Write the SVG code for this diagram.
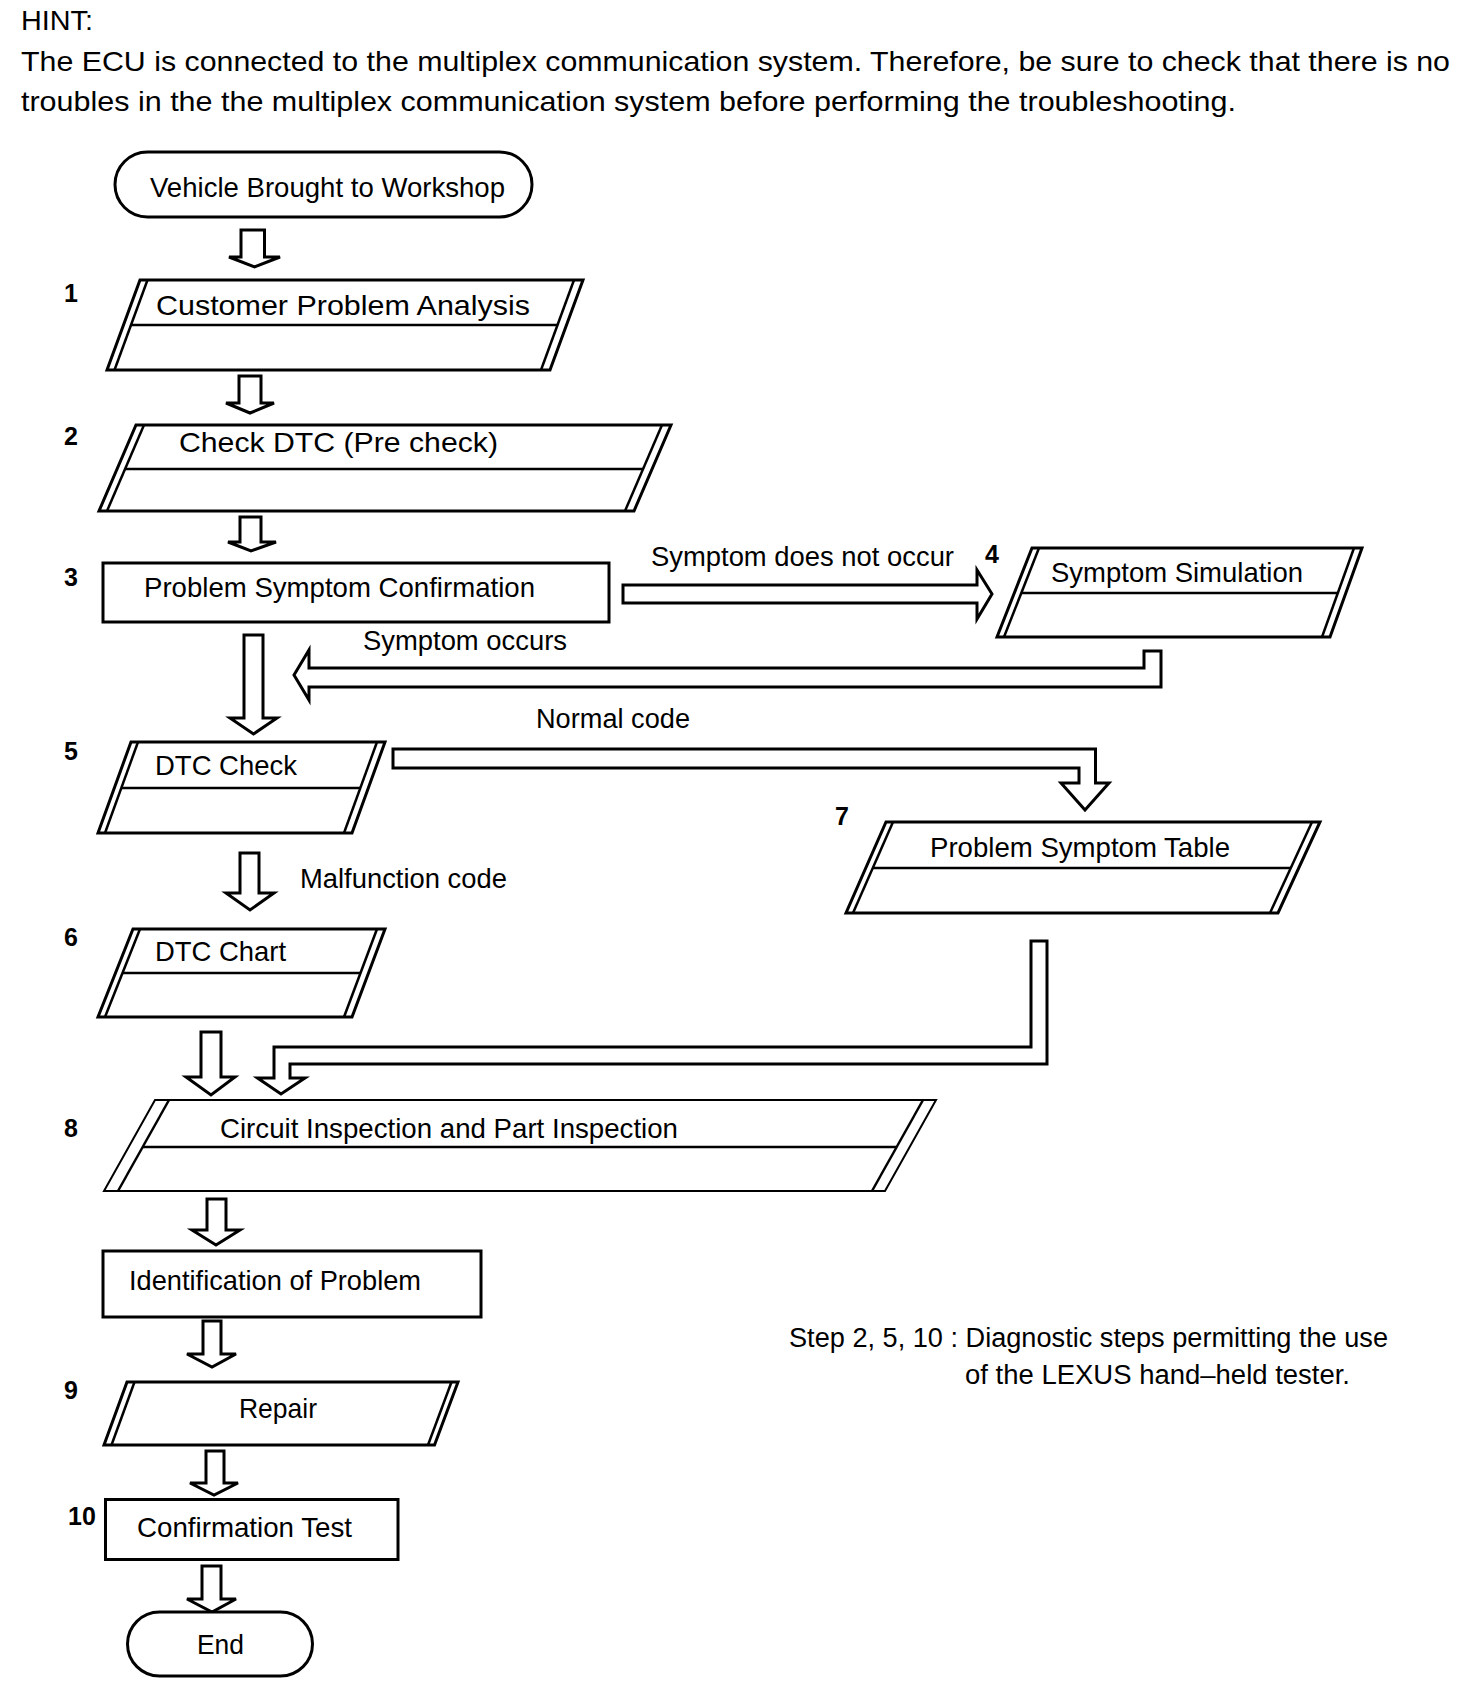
<svg xmlns="http://www.w3.org/2000/svg" width="1472" height="1690" viewBox="0 0 1472 1690">
<style>
text{font-family:"Liberation Sans",Arial,Helvetica,sans-serif;fill:#000}
.t{font-size:28px}
.c{font-size:27px}
.h{font-size:28px}
.n{font-size:25px;font-weight:bold}
.box{fill:#fff;stroke:#000;stroke-width:3;stroke-linejoin:miter}
.in{stroke:#000;stroke-width:2.5;fill:none}
.thin{fill:#fff;stroke:#000;stroke-width:2}
.arr{fill:#fff;stroke:#000;stroke-width:3;stroke-linejoin:miter}
</style>
<rect width="1472" height="1690" fill="#fff"/>
<g id="hint">
<text class="h" x="21" y="29.5" textLength="72" lengthAdjust="spacingAndGlyphs">HINT:</text>
<text class="h" x="21" y="71" textLength="1429" lengthAdjust="spacingAndGlyphs">The ECU is connected to the multiplex communication system. Therefore, be sure to check that there is no</text>
<text class="h" x="21" y="110.5" textLength="1215" lengthAdjust="spacingAndGlyphs">troubles in the the multiplex communication system before performing the troubleshooting.</text>
</g>
<g id="connectors">
<path class="arr" d="M241,230 H264.5 V257 H280 L254.5,267 L229,257 H241 Z"/>
<path class="arr" d="M239,376 H261 V403 H274 L250,413 L226,403 H239 Z"/>
<path class="arr" d="M240,517 H261 V542 H276 L251,551 L228,542 H240 Z"/>
<path class="arr" d="M244,635 H263 V718 H277 L253.5,734 L230,718 H244 Z"/>
<path class="arr" d="M240,853 H259 V893 H274 L250,910 L226,893 H240 Z"/>
<path class="arr" d="M201,1032 H221 V1077 H235 L211,1095 L186,1077 H201 Z"/>
<path class="arr" d="M207,1199 H226 V1230 H240 L216,1245 L192,1230 H207 Z"/>
<path class="arr" d="M203,1321 H221 V1354 H236 L212,1367 L187,1354 H203 Z"/>
<path class="arr" d="M206,1451 H224 V1483 H238 L214,1495 L190,1483 H206 Z"/>
<path class="arr" d="M202,1566 H221 V1599 H236 L212,1612 L187,1599 H202 Z"/>
<path class="arr" d="M623,585 H977 V570 L992,594 L977,619 V603 H623 Z"/>
<path class="arr" d="M1161,651 V687 H309 V700 L294,675 L309,650 V668 H1144 V651 Z"/>
<path class="arr" d="M393,749 H1095.5 V783 H1109 L1085,810 L1061,783 H1079 V768 H393 Z"/>
<path class="arr" d="M1031,941 H1047 V1064 H290 V1078 H305 L281,1094 L257.5,1078 H274 V1047 H1031 Z"/>
<text class="c" x="651" y="566" textLength="303" lengthAdjust="spacingAndGlyphs">Symptom does not occur</text>
<text class="c" x="363" y="650" textLength="204" lengthAdjust="spacingAndGlyphs">Symptom occurs</text>
<text class="c" x="536" y="728" textLength="154" lengthAdjust="spacingAndGlyphs">Normal code</text>
<text class="c" x="300" y="888" textLength="207" lengthAdjust="spacingAndGlyphs">Malfunction code</text>
</g>
<g id="start">
<rect class="box" x="115" y="152" width="417" height="65" rx="32.5" stroke-width="2.5"/>
<text class="t" x="150" y="197" textLength="355" lengthAdjust="spacingAndGlyphs">Vehicle Brought to Workshop</text>
</g>
<g id="step1">
<polygon class="box" points="140,280 583,280 550,370 107,370"/>
<line class="in" x1="147.5" y1="280" x2="114.5" y2="370"/>
<line class="in" x1="574" y1="280" x2="541" y2="370"/>
<line class="in" x1="131" y1="325" x2="557.5" y2="325"/>
<text class="n" x="64" y="302">1</text>
<text class="t" x="156" y="315" font-size="30" textLength="374" lengthAdjust="spacingAndGlyphs">Customer Problem Analysis</text>
</g>
<g id="step2">
<polygon class="box" points="136,425 671,425 634,511 99,511" stroke-width="4"/>
<line class="in" x1="144" y1="425" x2="107" y2="511" stroke-width="3"/>
<line class="in" x1="662" y1="425" x2="625" y2="511" stroke-width="3"/>
<line class="in" x1="125" y1="469" x2="643" y2="469" stroke-width="4"/>
<text class="n" x="64" y="445">2</text>
<text class="t" x="179" y="452" font-size="29" textLength="319" lengthAdjust="spacingAndGlyphs">Check DTC (Pre check)</text>
</g>
<g id="step3">
<rect class="box" x="103" y="563" width="506" height="59"/>
<text class="n" x="64" y="586">3</text>
<text class="t" x="144" y="597" textLength="391" lengthAdjust="spacingAndGlyphs">Problem Symptom Confirmation</text>
</g>
<g id="step4">
<polygon class="box" points="1032,548 1362,548 1330,637 997,637"/>
<line class="in" x1="1039" y1="548" x2="1004" y2="637"/>
<line class="in" x1="1354" y1="548" x2="1322" y2="637"/>
<line class="in" x1="1021.3" y1="593" x2="1337.8" y2="593"/>
<text class="n" x="985" y="563">4</text>
<text class="t" x="1051" y="582" textLength="252" lengthAdjust="spacingAndGlyphs">Symptom Simulation</text>
</g>
<g id="step5">
<polygon class="box" points="131,742 385,742 352,833 98,833" stroke-width="3.5"/>
<line class="in" x1="138" y1="742" x2="105" y2="833"/>
<line class="in" x1="377" y1="742" x2="344" y2="833"/>
<line class="in" x1="121.3" y1="788" x2="360.3" y2="788" stroke-width="3"/>
<text class="n" x="64" y="760">5</text>
<text class="t" x="155" y="775" textLength="142" lengthAdjust="spacingAndGlyphs">DTC Check</text>
</g>
<g id="step6">
<polygon class="box" points="133,929 385,929 352,1017 98,1017"/>
<line class="in" x1="140" y1="929" x2="105" y2="1017"/>
<line class="in" x1="377" y1="929" x2="344" y2="1017"/>
<line class="in" x1="122.5" y1="973" x2="360.5" y2="973"/>
<text class="n" x="64" y="946">6</text>
<text class="t" x="155" y="961" textLength="131" lengthAdjust="spacingAndGlyphs">DTC Chart</text>
</g>
<g id="step7">
<polygon class="box" points="886,822 1320,822 1278,913 846,913"/>
<line class="in" x1="893" y1="822" x2="853" y2="913"/>
<line class="in" x1="1312" y1="822" x2="1270" y2="913"/>
<line class="in" x1="872.8" y1="868" x2="1290.8" y2="868"/>
<text class="n" x="835" y="825">7</text>
<text class="t" x="930" y="857" textLength="300" lengthAdjust="spacingAndGlyphs">Problem Symptom Table</text>
</g>
<g id="step8">
<polygon class="thin" points="155,1100 936,1100 885,1191 104,1191"/>
<line class="in" x1="169" y1="1100" x2="118" y2="1191" stroke-width="2"/>
<line class="in" x1="923" y1="1100" x2="872" y2="1191" stroke-width="2"/>
<line class="in" x1="142.7" y1="1147" x2="896.7" y2="1147" stroke-width="2"/>
<text class="n" x="64" y="1137">8</text>
<text class="t" x="220" y="1138" textLength="458" lengthAdjust="spacingAndGlyphs">Circuit Inspection and Part Inspection</text>
</g>
<g id="identification">
<rect class="box" x="103" y="1251" width="378" height="66" stroke-width="2.5"/>
<text class="t" x="129" y="1290" textLength="292" lengthAdjust="spacingAndGlyphs">Identification of Problem</text>
</g>
<g id="step9">
<polygon class="box" points="127,1382 458,1382 434.5,1445 104,1445"/>
<line class="in" x1="134.5" y1="1382" x2="111.5" y2="1445" stroke-width="2"/>
<line class="in" x1="451.5" y1="1382" x2="428" y2="1445" stroke-width="2"/>
<text class="n" x="64" y="1399">9</text>
<text class="t" x="239" y="1418" textLength="78" lengthAdjust="spacingAndGlyphs">Repair</text>
</g>
<g id="step10">
<rect class="box" x="105.5" y="1499.5" width="292.5" height="60"/>
<text class="n" x="68" y="1525">10</text>
<text class="t" x="137" y="1537" textLength="215" lengthAdjust="spacingAndGlyphs">Confirmation Test</text>
</g>
<g id="end">
<rect class="box" x="127.5" y="1612" width="185" height="64" rx="32" stroke-width="2.5"/>
<text class="t" x="197" y="1654" textLength="47" lengthAdjust="spacingAndGlyphs">End</text>
</g>
<g id="note">
<text class="c" x="789" y="1347" textLength="599" lengthAdjust="spacingAndGlyphs">Step 2, 5, 10 : Diagnostic steps permitting the use</text>
<text class="c" x="965" y="1384" textLength="385" lengthAdjust="spacingAndGlyphs">of the LEXUS hand–held tester.</text>
</g>
</svg>
